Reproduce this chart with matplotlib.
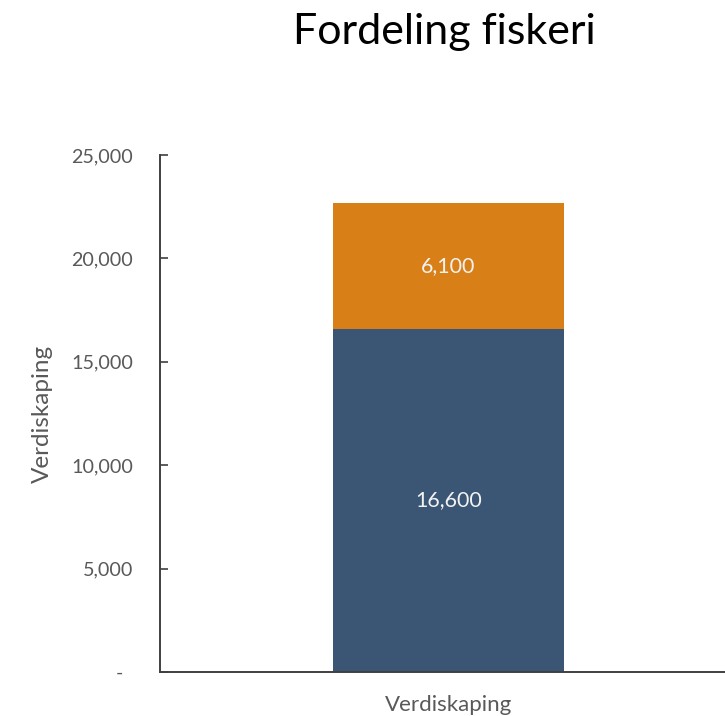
import matplotlib.pyplot as plt

# data
category = ["Verdiskaping"]
bottom_values = [16600]
top_values = [6100]
yticks = [0, 5000, 10000, 15000, 20000, 25000]
ytick_labels = ["-  ", "5,000", "10,000", "15,000", "20,000", "25,000"]

blue = "#3A5674"
orange = "#D97F17"
grey_text = "#595959"

plt.rcParams["font.family"] = ["Lato", "DejaVu Sans"]

fig = plt.figure(figsize=(7.25, 7.16), dpi=100)
ax = fig.add_axes([0.2207, 0.0615, 0.796, 0.722])

x = [0]
ax.bar(x, bottom_values, width=0.4, color=blue)
ax.bar(x, top_values, width=0.4, bottom=bottom_values, color=orange)

for xi, b, t in zip(x, bottom_values, top_values):
    ax.text(xi, b / 2, f"{b:,}", ha="center", va="center", color="#F2F2F2", fontsize=15.4)
    ax.text(xi, b + t / 2, f"{t:,}", ha="center", va="center", color="#F2F2F2", fontsize=15.4)

ax.set_xlim(-0.5, 0.5)
ax.set_ylim(0, 25000)
ax.set_yticks(yticks)
ax.set_yticklabels(ytick_labels)
ax.set_xticks(x)
ax.set_xticklabels(category)

ax.tick_params(axis="y", direction="in", length=6, width=1.2, color="#404040",
               labelcolor=grey_text, labelsize=14.2, pad=19.5)
ax.tick_params(axis="x", length=0, labelcolor=grey_text, labelsize=16, pad=16.5)

for side in ["top", "right"]:
    ax.spines[side].set_visible(False)
for side in ["left", "bottom"]:
    ax.spines[side].set_color("#404040")
    ax.spines[side].set_linewidth(1.4)

ax.set_ylabel("Verdiskaping", color=grey_text, fontsize=17.5, labelpad=13)
fig.text(0.613, 0.956, "Fordeling fiskeri", ha="center", va="center", fontsize=31, color="#000000")

fig.savefig("out.png", dpi=100)
